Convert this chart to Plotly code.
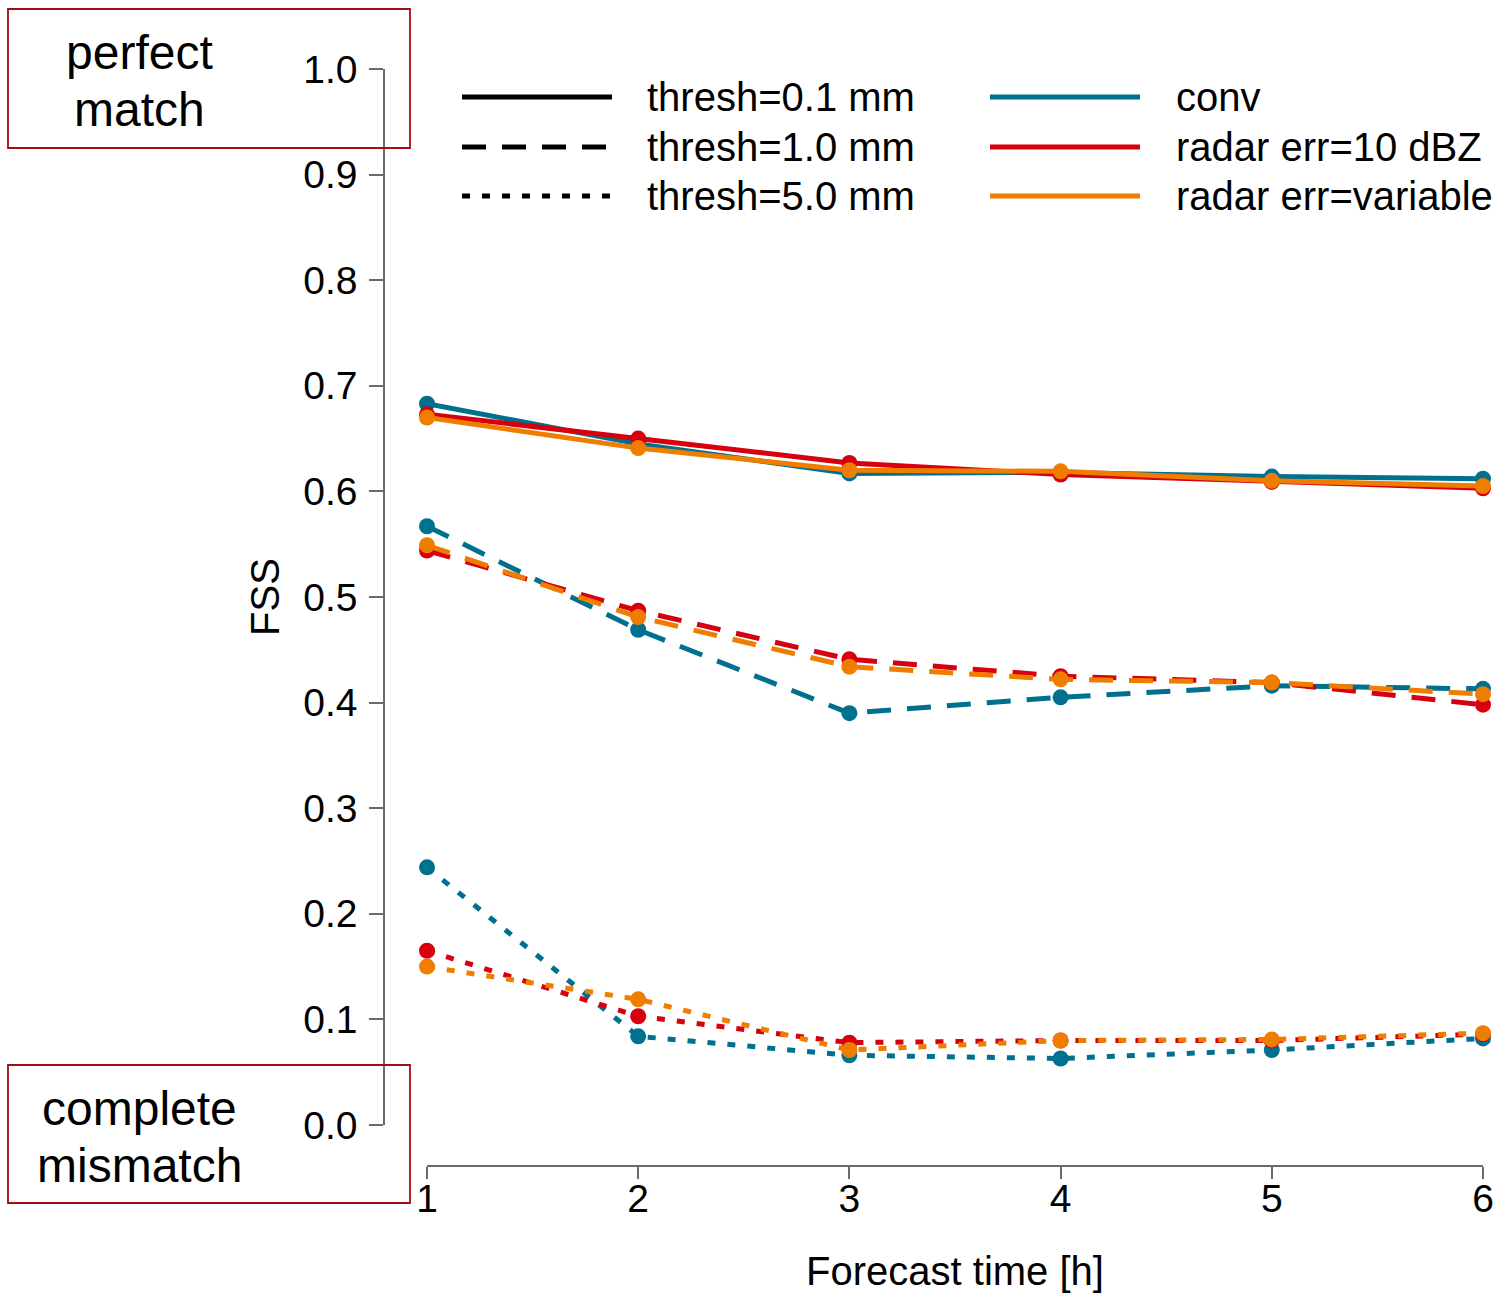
import plotly.graph_objects as go

# ---------------- data ----------------
forecast_hours = [1, 2, 3, 4, 5, 6]

conv_t01 = [0.683, 0.645, 0.617, 0.618, 0.614, 0.612]
radar10_t01 = [0.673, 0.650, 0.627, 0.616, 0.609, 0.603]
radarvar_t01 = [0.670, 0.641, 0.620, 0.619, 0.610, 0.605]

conv_t10 = [0.567, 0.469, 0.390, 0.405, 0.416, 0.413]
radar10_t10 = [0.544, 0.487, 0.441, 0.425, 0.419, 0.398]
radarvar_t10 = [0.549, 0.481, 0.434, 0.422, 0.419, 0.408]

conv_t50 = [0.244, 0.084, 0.066, 0.063, 0.071, 0.082]
radar10_t50 = [0.165, 0.103, 0.078, 0.080, 0.080, 0.086]
radarvar_t50 = [0.150, 0.119, 0.071, 0.080, 0.081, 0.087]

y_ticks = [0.0, 0.1, 0.2, 0.3, 0.4, 0.5, 0.6, 0.7, 0.8, 0.9, 1.0]
thresh_labels = ["thresh=0.1 mm", "thresh=1.0 mm", "thresh=5.0 mm"]
exp_labels = ["conv", "radar err=10 dBZ", "radar err=variable"]
top_box_lines = ["perfect", "match"]
bottom_box_lines = ["complete", "mismatch"]

# ---------------- style ----------------
W, H = 1502, 1293
FONT = "Liberation Sans, Arial, sans-serif"
COLORS = ["#00708F", "#D7000F", "#EF7D00"]
DASHES = ["solid", "24px,16px", "8px,12px"]
AXCOL = "#6b6b6b"


def px(x):
    return x / W


def py(y):
    return 1 - y / H


fig = go.Figure()

series = [
    [conv_t01, radar10_t01, radarvar_t01],
    [conv_t10, radar10_t10, radarvar_t10],
    [conv_t50, radar10_t50, radarvar_t50],
]
for ti, group in enumerate(series):
    for ei, vals in enumerate(group):
        fig.add_trace(go.Scatter(
            x=forecast_hours, y=vals, mode="lines+markers",
            line=dict(color=COLORS[ei], width=5, dash=DASHES[ti]),
            marker=dict(color=COLORS[ei], size=16),
            cliponaxis=False, showlegend=False,
            name=f"{exp_labels[ei]} {thresh_labels[ti]}",
        ))

fig.update_layout(
    width=W, height=H,
    margin=dict(l=0, r=0, t=0, b=0),
    paper_bgcolor="white", plot_bgcolor="white",
    font=dict(family=FONT, size=40, color="black"),
    showlegend=False,
    xaxis=dict(
        domain=[px(427), px(1483)], range=[1, 6],
        anchor="free", position=py(1166),
        showline=True, linecolor=AXCOL, linewidth=1.5,
        ticks="outside", ticklen=12, tickwidth=1.5, tickcolor=AXCOL,
        tickvals=forecast_hours, showgrid=False, zeroline=False,
        tickfont=dict(size=39), automargin=False, ticklabelstandoff=-14,
        title=dict(text="Forecast time [h]", font=dict(size=40), standoff=42),
    ),
    yaxis=dict(
        domain=[py(1125), py(69)], range=[0, 1],
        anchor="free", position=px(384),
        showline=True, linecolor=AXCOL, linewidth=1.5,
        ticks="outside", ticklen=14, tickwidth=1.5, tickcolor=AXCOL,
        tickvals=y_ticks, ticktext=[f"{v:.1f}" for v in y_ticks],
        showgrid=False, zeroline=False, ticklabelstandoff=4,
        tickfont=dict(size=39), automargin=False,
        title=dict(text="FSS", font=dict(size=40), standoff=10),
    ),
)

# ---------------- custom legend ----------------
rows = [97, 147, 196]
for i, lab in enumerate(thresh_labels):
    fig.add_shape(type="line", xref="paper", yref="paper",
                  x0=px(462), x1=px(612), y0=py(rows[i]), y1=py(rows[i]),
                  line=dict(color="black", width=5, dash=DASHES[i]))
    fig.add_annotation(xref="paper", yref="paper", x=px(645), y=py(rows[i]),
                       text=lab, showarrow=False, xanchor="left", yanchor="middle",
                       font=dict(size=40, family=FONT))
for i, lab in enumerate(exp_labels):
    fig.add_shape(type="line", xref="paper", yref="paper",
                  x0=px(990), x1=px(1140), y0=py(rows[i]), y1=py(rows[i]),
                  line=dict(color=COLORS[i], width=5))
    fig.add_annotation(xref="paper", yref="paper", x=px(1174), y=py(rows[i]),
                       text=lab, showarrow=False, xanchor="left", yanchor="middle",
                       font=dict(size=40, family=FONT))

# ---------------- explanatory boxes ----------------
BOXCOL = "#A50E0E"
fig.add_shape(type="rect", xref="paper", yref="paper",
              x0=px(8), x1=px(410), y0=py(148), y1=py(9),
              line=dict(color=BOXCOL, width=1.8), fillcolor="rgba(0,0,0,0)")
fig.add_shape(type="rect", xref="paper", yref="paper",
              x0=px(8), x1=px(410), y0=py(1203), y1=py(1065),
              line=dict(color=BOXCOL, width=1.8), fillcolor="rgba(0,0,0,0)")
for txt, yy in zip(top_box_lines + bottom_box_lines, [52, 109, 1108, 1165]):
    fig.add_annotation(xref="paper", yref="paper", x=px(139), y=py(yy),
                       text=txt, showarrow=False,
                       xanchor="center", yanchor="middle",
                       font=dict(size=48, family=FONT))

fig.write_html("out.html")
